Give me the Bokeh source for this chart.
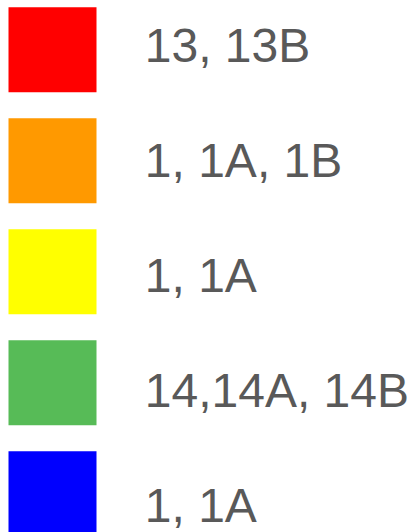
from bokeh.plotting import figure
from bokeh.models import ColumnDataSource, Range1d
from bokeh.core.properties import value
from bokeh.embed import file_html
from bokeh.resources import INLINE

# Legend entries (top to bottom)
labels = ["13, 13B", "1, 1A, 1B", "1, 1A", "14,14A, 14B", "1, 1A"]
colors = ["#FF0000", "#FF9900", "#FFFF00", "#57BB57", "#0000FF"]
rows = list(range(len(labels)))

W, H = 415, 532

p = figure(width=W, height=H, output_backend="svg", toolbar_location=None,
           x_axis_type=None, y_axis_type=None, min_border=0,
           x_range=Range1d(0, W), y_range=Range1d(4.3486, -0.4441))
p.extra_y_ranges = {"labels": Range1d(4.2391, -0.3885)}
p.grid.visible = False
p.outline_line_color = None
p.background_fill_color = "white"
p.border_fill_color = "white"

src = ColumnDataSource(dict(
    x=[52] * len(rows),
    tx=[144.3] * len(rows),
    y=rows,
    label=labels,
    color=colors,
))

p.rect(x="x", y="y", width=88, height=85, width_units="screen", height_units="screen",
       fill_color="color", line_color=None, source=src)

p.text(x="tx", y="y", text="label", source=src, y_range_name="labels",
       text_font=value("Liberation Sans"), text_font_size="48px",
       text_color="#595959", text_baseline="middle", text_align="left")

open("out.html", "w").write(file_html(p, INLINE))
